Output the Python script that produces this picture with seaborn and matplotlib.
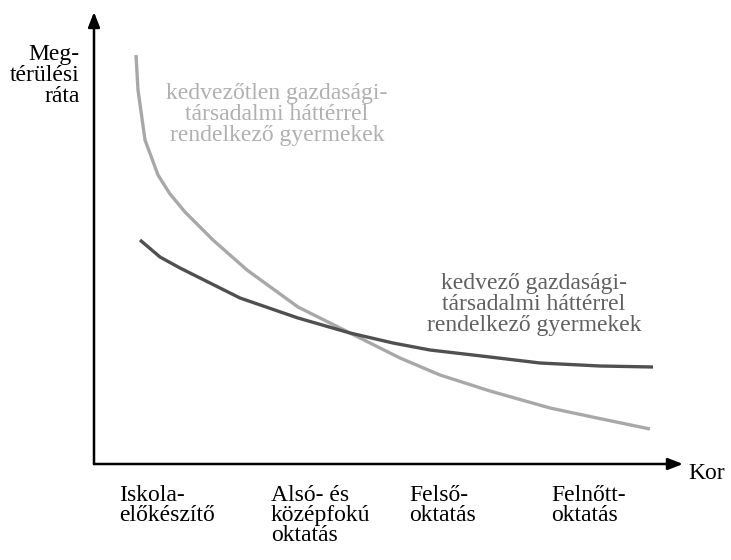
import matplotlib
matplotlib.use('Agg')
import matplotlib.pyplot as plt
from matplotlib import font_manager as fm
import seaborn as sns
import pandas as pd

# kor (vízszintes) és megtérülési ráta (függőleges)
kor_kedvezotlen = [42, 44, 51, 64, 76, 91, 119, 153, 204, 256, 306, 346, 396, 456, 503, 556]
rata_kedvezotlen = [409, 374, 324, 289, 270, 252, 224, 194, 157, 131, 106, 89, 73, 56, 46, 35]
kor_kedvezo = [46, 66, 86, 116, 146, 204, 256, 299, 336, 396, 446, 506, 559]
rata_kedvezo = [224, 207, 196, 181, 166, 146, 131, 121, 114, 107, 101, 98, 97]

kategoriak = ['Iskola-\nelőkészítő', 'Alsó- és\nközépfokú\noktatás',
              'Felső-\noktatás', 'Felnőtt-\noktatás']
kategoria_pos = [25, 177, 315, 457]

szin_vilagos = '#a8a8a8'
szin_sotet = '#505050'
MERET = 17

# a betűtípust a fájl útvonalával adjuk meg, hogy biztosan talpas legyen
betu_fajl = fm.findfont(fm.FontProperties(family='Liberation Serif'))
BETU = fm.FontProperties(fname=betu_fajl, size=MERET)

df1 = pd.DataFrame({'kor': kor_kedvezotlen, 'rata': rata_kedvezotlen})
df2 = pd.DataFrame({'kor': kor_kedvezo, 'rata': rata_kedvezo})

fig = plt.figure(figsize=(7.31, 5.6), dpi=100, facecolor='white')
ax = fig.add_axes([94 / 731, 96 / 560, 589 / 731, 452 / 560])
ax.set_facecolor('white')

sns.lineplot(data=df1, x='kor', y='rata', ax=ax, color=szin_vilagos, lw=2.4,
             solid_joinstyle='round', solid_capstyle='butt')
sns.lineplot(data=df2, x='kor', y='rata', ax=ax, color=szin_sotet, lw=2.4,
             solid_joinstyle='round', solid_capstyle='butt')

ax.set_xlim(0, 589)
ax.set_ylim(0, 452)
for s in ax.spines.values():
    s.set_visible(False)
ax.grid(False)

# tengelyek nyíllal
for cel in [(1, 0), (0, 1)]:
    ax.annotate('', xy=cel, xytext=(0, 0), xycoords='axes fraction',
                arrowprops=dict(arrowstyle='-|>,head_length=0.9,head_width=0.35',
                                color='black', lw=1.8, shrinkA=0, shrinkB=0))

ax.set_xticks(kategoria_pos)
ax.set_xticklabels(kategoriak, ha='left', linespacing=0.95,
                   fontproperties=BETU, color='black')
ax.tick_params(axis='x', length=0, pad=15)
ax.set_yticks([])
ax.set_xlabel('')
ax.set_ylabel('')

ax.text(1.009, -0.02, 'Kor', transform=ax.transAxes, ha='left', va='center',
        fontproperties=BETU, color='black')
ax.text(-0.024, 0.93, 'Meg-\ntérülési\nráta', transform=ax.transAxes,
        ha='right', va='top', linespacing=1.0, fontproperties=BETU,
        color='black')

ax.text(183, 349, 'kedvezőtlen gazdasági-\ntársadalmi háttérrel\nrendelkező gyermekek',
        ha='center', va='center', color='#b0b0b0', linespacing=1.0,
        fontproperties=BETU)
ax.text(440, 160, 'kedvező gazdasági-\ntársadalmi háttérrel\nrendelkező gyermekek',
        ha='center', va='center', color='#606060', linespacing=1.0,
        fontproperties=BETU)

fig.savefig('out.png', dpi=100)
